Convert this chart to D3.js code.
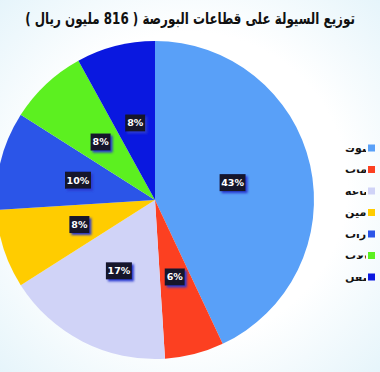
<!DOCTYPE html>
<html><head><meta charset="utf-8">
<script src="https://cdn.jsdelivr.net/npm/d3@7"></script>
<style>
html,body{margin:0;padding:0;background:#fff;}
svg{display:block;}
</style></head>
<body>
<svg id="chart" width="380" height="372"></svg>
<script>
const title = "توزيع السيولة على قطاعات البورصة ( 816 مليون ريال )";
const categories = ["البنوك","الخدمات","الصناعة","التأمين","العقارات","الاتصالات","النقل"];
const values = [43, 6, 17, 8, 10, 8, 8];
const colors = ["#59a0f8","#fc4021","#d0d3f7","#ffcc00","#2b55e8","#5cf020","#0a18e0"];

const svg = d3.select("#chart");
const W = 380, H = 372;
const defs = svg.append("defs");
const bg = defs.append("radialGradient").attr("id","bg").attr("cx","50%").attr("cy","50%").attr("r","75%");
bg.append("stop").attr("offset","55%").attr("stop-color","#ffffff");
bg.append("stop").attr("offset","100%").attr("stop-color","#e2f3fa");
svg.append("rect").attr("width",W).attr("height",H).attr("fill","url(#bg)");

const sh = defs.append("filter").attr("id","sh").attr("x","-30%").attr("y","-30%").attr("width","170%").attr("height","170%");
sh.append("feGaussianBlur").attr("in","SourceAlpha").attr("stdDeviation",1.2).attr("result","b");
sh.append("feFlood").attr("flood-color","#2a3ad0").attr("result","c");
sh.append("feComposite").attr("in","c").attr("in2","b").attr("operator","in").attr("result","s");
sh.append("feOffset").attr("in","s").attr("dx",2).attr("dy",2).attr("result","o");
const m = sh.append("feMerge");
m.append("feMergeNode").attr("in","o");
m.append("feMergeNode").attr("in","SourceGraphic");

const tg = svg.append("g");
const t = tg.append("text").attr("x",0).attr("y",0)
  .attr("text-anchor","middle").attr("direction","rtl")
  .attr("font-family","DejaVu Sans, sans-serif")
  .attr("font-weight","bold").attr("font-size",16).attr("fill","#111")
  .text(title);
const tw = t.node().getComputedTextLength();
tg.attr("transform",`translate(190,24) scale(${330/tw},1)`);

const cx = 155, cy = 200, R = 159;
const pie = d3.pie().sort(null).value(d => d)(values);
const arc = d3.arc().innerRadius(0).outerRadius(R);
const g = svg.append("g").attr("transform",`translate(${cx},${cy})`);
g.selectAll("path").data(pie).join("path")
  .attr("d", arc).attr("fill",(d,i)=>colors[i]);

const lab = g.selectAll("g.lab").data(pie).join("g").attr("class","lab")
  .attr("transform", d => `translate(${arc.centroid(d)})`);
lab.each(function(d){
  const s = d3.select(this);
  const txt = d.data + "%";
  const w = txt.length > 2 ? 26 : 20;
  s.append("rect").attr("x",-w/2).attr("y",-8.5).attr("width",w).attr("height",17)
    .attr("fill","#12122a").attr("filter","url(#sh)");
  s.append("text").attr("text-anchor","middle").attr("dy","0.35em")
    .attr("font-family","DejaVu Sans, sans-serif").attr("font-weight","bold")
    .attr("font-size",9.5).attr("fill","#fff").text(txt);
});

defs.append("clipPath").attr("id","lc").append("rect").attr("x",300).attr("y",0).attr("width",66).attr("height",H);
const leg = svg.append("g");
const items = leg.selectAll("g").data(categories).join("g")
  .attr("transform",(d,i)=>`translate(0,${148 + i*21.5})`);
items.append("rect").attr("x",368).attr("y",-3.5).attr("width",7).attr("height",7)
  .attr("fill",(d,i)=>colors[i]);
items.append("text").attr("x",345).attr("y",0).attr("dy","0.35em")
  .attr("text-anchor","start").attr("direction","ltr")
  .attr("clip-path","url(#lc)")
  .attr("font-family","DejaVu Sans, sans-serif").attr("font-weight","bold")
  .attr("font-size",11).attr("fill","#111").text(d=>d);
</script>
</body></html>
